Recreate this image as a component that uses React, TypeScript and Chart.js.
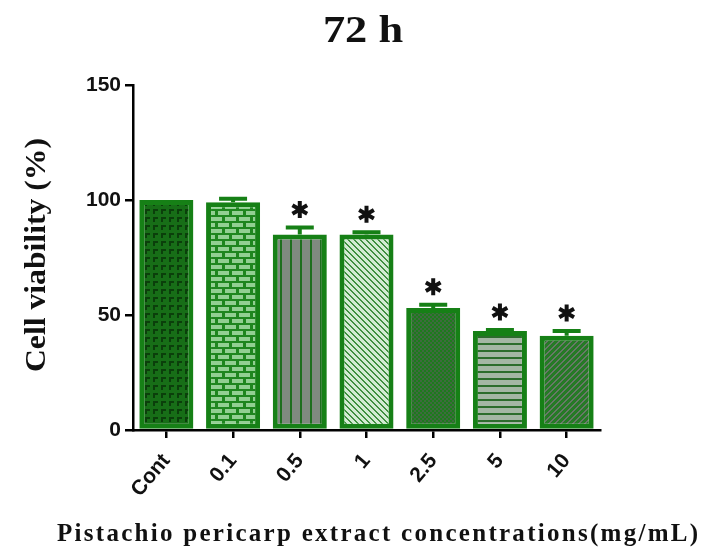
import React, { useEffect, useRef } from "react";
import { Chart, registerables } from "chart.js";

Chart.register(...registerables);

const categories = ["Cont", "0.1", "0.5", "1", "2.5", "5", "10"];
const viability = [100, 99, 85, 85, 53, 43, 41];
const sem = [0, 1.5, 3, 1, 1.5, 0.5, 2];
const significant = [false, false, true, true, true, true, true];
const yTicks = [0, 50, 100, 150];

const TITLE = "72 h";
const Y_TITLE = "Cell viability (%)";
const X_TITLE = "Pistachio pericarp extract concentrations(mg/mL)";
const GREEN = "#168016";

function tile(w: number, h: number, draw: (c: CanvasRenderingContext2D) => void) {
  const cv = document.createElement("canvas");
  cv.width = w;
  cv.height = h;
  const c = cv.getContext("2d")!;
  draw(c);
  return cv;
}

function diag(n: number, bg: string, fg: string, dir: 1 | -1) {
  return tile(n, n, (c) => {
    c.fillStyle = bg;
    c.fillRect(0, 0, n, n);
    c.fillStyle = fg;
    for (let y = 0; y < n; y++) {
      const x = dir === 1 ? y : n - 1 - y;
      c.fillRect(x, y, 2, 1);
      if (x + 1 >= n) c.fillRect(0, y, 1, 1);
    }
  });
}

function makePatterns(ctx: CanvasRenderingContext2D) {
  const tiles = [
    tile(8, 8, (c) => {
      c.fillStyle = "#176e17";
      c.fillRect(0, 0, 8, 8);
      c.fillStyle = "#0b3f0b";
      c.fillRect(1, 1, 5, 2);
      c.fillRect(1, 1, 2, 5);
    }),
    tile(14, 12, (c) => {
      c.fillStyle = "#1f861f";
      c.fillRect(0, 0, 14, 12);
      c.fillStyle = "#92cf92";
      c.fillRect(1, 1, 11, 4);
      c.fillRect(-6, 7, 11, 4);
      c.fillRect(8, 7, 11, 4);
    }),
    tile(10, 2, (c) => {
      c.fillStyle = "#7f8a7f";
      c.fillRect(0, 0, 10, 2);
      c.fillStyle = "#1d6f1d";
      c.fillRect(0, 0, 2, 2);
    }),
    diag(6, "#d2ebd2", "#3f8f3f", 1),
    tile(4, 4, (c) => {
      c.fillStyle = "#1d7a1d";
      c.fillRect(0, 0, 4, 4);
      c.fillStyle = "#3e6b3e";
      c.fillRect(0, 0, 2, 2);
      c.fillRect(2, 2, 2, 2);
    }),
    tile(2, 7, (c) => {
      c.fillStyle = "#a4b6a4";
      c.fillRect(0, 0, 2, 7);
      c.fillStyle = "#2c6c2c";
      c.fillRect(0, 0, 2, 2);
    }),
    diag(6, "#267a26", "#687868", -1),
  ];
  return tiles.map((t) => ctx.createPattern(t, "repeat")!);
}

const overlay = {
  id: "overlay",
  afterDatasetsDraw(chart: any) {
    const ctx: CanvasRenderingContext2D = chart.ctx;
    const meta = chart.getDatasetMeta(0);
    const y = chart.scales.y;
    ctx.save();
    viability.forEach((v, i) => {
      const x = meta.data[i].x;
      const yb = y.getPixelForValue(v);
      const yt = y.getPixelForValue(v + sem[i]);
      if (sem[i] > 0) {
        ctx.strokeStyle = GREEN;
        ctx.lineWidth = 4;
        ctx.beginPath();
        ctx.moveTo(x, yb);
        ctx.lineTo(x, yt);
        ctx.moveTo(x - 14, yt);
        ctx.lineTo(x + 14, yt);
        ctx.stroke();
      }
      if (significant[i]) {
        const cy = yt - 18;
        ctx.strokeStyle = "#111";
        ctx.lineWidth = 4;
        ctx.lineCap = "butt";
        ctx.beginPath();
        for (const a of [90, 30, 150]) {
          const r = (a * Math.PI) / 180;
          ctx.moveTo(x - 8.5 * Math.cos(r), cy - 8.5 * Math.sin(r));
          ctx.lineTo(x + 8.5 * Math.cos(r), cy + 8.5 * Math.sin(r));
        }
        ctx.stroke();
      }
    });
    ctx.restore();
  },
  afterDraw(chart: any) {
    const ctx: CanvasRenderingContext2D = chart.ctx;
    ctx.save();
    ctx.fillStyle = "#111";
    // title
    ctx.save();
    ctx.translate(363, 42);
    ctx.scale(1.2, 1);
    ctx.font = "bold 37px 'Liberation Serif'";
    ctx.textAlign = "center";
    ctx.textBaseline = "alphabetic";
    ctx.fillText(TITLE, 0, 0);
    ctx.restore();
    // y title
    ctx.save();
    ctx.translate(45, 255);
    ctx.rotate(-Math.PI / 2);
    ctx.font = "bold 29px 'Liberation Serif'";
    const wy = ctx.measureText(Y_TITLE).width;
    ctx.scale(234 / wy, 1);
    ctx.textAlign = "center";
    ctx.fillText(Y_TITLE, 0, 0);
    ctx.restore();
    // x title with letter spacing
    ctx.font = "bold 25px 'Liberation Serif'";
    ctx.textAlign = "left";
    const natural = ctx.measureText(X_TITLE).width;
    const target = 641;
    const sp = (target - natural) / (X_TITLE.length - 1);
    (ctx as any).letterSpacing = sp.toFixed(2) + "px";
    ctx.fillText(X_TITLE, 57, 541);
    ctx.restore();
  },
};

export default function App() {
  const ref = useRef<HTMLCanvasElement>(null);
  useEffect(() => {
    const canvas = ref.current!;
    const ctx = canvas.getContext("2d")!;
    const patterns = makePatterns(ctx);
    const chart = new Chart(canvas, {
      type: "bar",
      data: {
        labels: categories,
        datasets: [
          {
            data: viability,
            backgroundColor: patterns as any,
            borderColor: GREEN,
            borderWidth: 5,
            borderSkipped: false,
            barPercentage: 0.81,
            categoryPercentage: 1,
          },
        ],
      },
      options: {
        responsive: false,
        animation: false,
        layout: { padding: { top: 85, right: 104, left: 0, bottom: 0 } },
        plugins: {
          legend: { display: false },
          tooltip: { enabled: false },
          title: { display: false },
        },
        scales: {
          x: {
            afterFit: (s: any) => {
              s.height = 553 - 430;
            },
            border: { color: "#000", width: 2.5 },
            grid: {
              display: true,
              drawOnChartArea: false,
              drawTicks: true,
              tickLength: 8,
              color: "#000",
              lineWidth: 2.5,
              offset: false,
            },
            ticks: {
              autoSkip: false,
              minRotation: 50,
              maxRotation: 50,
              padding: 11,
              color: "#111",
              font: { family: "'Liberation Sans'", weight: "bold", size: 21 },
            },
          },
          y: {
            min: 0,
            max: 150,
            afterFit: (s: any) => {
              s.width = 133;
            },
            afterBuildTicks: (s: any) => {
              s.ticks = yTicks.map((v) => ({ value: v }));
            },
            border: { color: "#000", width: 2.5 },
            grid: {
              display: true,
              drawOnChartArea: false,
              drawTicks: true,
              tickLength: 8,
              color: "#000",
              lineWidth: 2.5,
            },
            ticks: {
              padding: 4,
              color: "#111",
              font: { family: "'Liberation Sans'", weight: "bold", size: 21 },
            },
          },
        },
      },
      plugins: [overlay],
    });
    return () => chart.destroy();
  }, []);
  return (
    <div style={{ position: "absolute", left: 0, top: 0, width: 704, height: 553, background: "#fff" }}>
      <canvas ref={ref} width={704} height={553} />
    </div>
  );
}
